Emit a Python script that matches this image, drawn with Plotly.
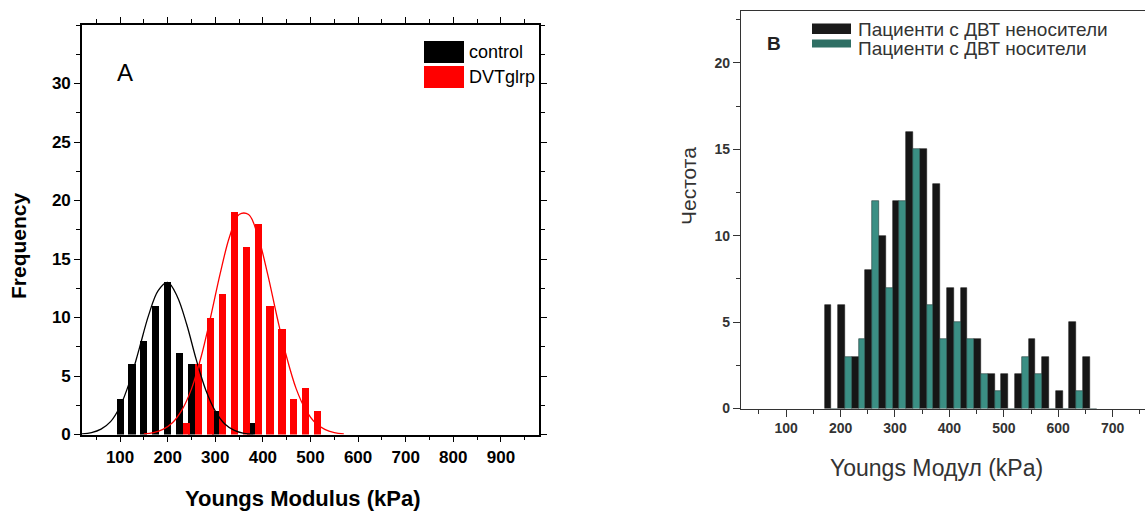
import plotly.graph_objects as go

W, H = 1145, 514

# ---------------- Panel A data ----------------
control_x = [100, 125, 150, 175, 200, 225, 250, 300, 375]
control_n = [3, 6, 8, 11, 13, 7, 6, 2, 1]
dvt_x = [240, 265, 290, 315, 340, 365, 390, 415, 440, 465, 490, 515]
dvt_n = [1, 6, 10, 12, 19, 16, 18, 11, 9, 3, 4, 2]

# fitted curves
control_fit_x = [20, 40, 60, 80, 100, 120, 140, 160, 180, 200, 220, 240, 260, 280, 300, 320, 340, 360, 380]
control_fit_y = [0.05, 0.16, 0.46, 1.1, 2.4, 4.5, 7.3, 10.2, 12.3, 13.0, 11.8, 9.4, 6.4, 3.8, 2.0, 0.9, 0.35, 0.1, 0.03]
dvt_fit_x = [150, 170, 190, 210, 230, 250, 270, 290, 310, 330, 350, 370, 390, 410, 430, 450, 470, 490, 510, 530, 550, 570]
dvt_fit_y = [0.06, 0.17, 0.44, 1.0, 2.1, 3.9, 6.6, 10.0, 13.7, 16.9, 18.8, 18.8, 16.9, 13.7, 10.0, 6.6, 3.9, 2.1, 1.0, 0.44, 0.17, 0.06]

a_xticks = [100, 200, 300, 400, 500, 600, 700, 800, 900]
a_yticks = [0, 5, 10, 15, 20, 25, 30]

# ---------------- Panel B data ----------------
b_bins = [183, 208, 233, 258, 283, 308, 333, 358, 383, 408, 433, 458, 483, 508, 533, 558, 583, 608, 633, 658]
b_noncarriers = [6, 6, 3, 8, 10, 12, 16, 15, 13, 7, 7, 4, 2, 2, 2, 4, 3, 1, 5, 3]
b_carriers = [0, 3, 4, 12, 7, 12, 15, 6, 4, 5, 4, 2, 1, 0, 3, 2, 0, 0, 1, 0]

b_xticks = [100, 200, 300, 400, 500, 600, 700]
b_yticks = [0, 5, 10, 15, 20]

SANS = "Liberation Sans, Arial"

fig = go.Figure()

# Panel A
fig.add_trace(go.Bar(x=control_x, y=control_n, width=15, marker=dict(color="#000000", line=dict(width=0)),
                     xaxis="x", yaxis="y", showlegend=False))
fig.add_trace(go.Bar(x=dvt_x, y=dvt_n, width=15, marker=dict(color="#ff0000", line=dict(width=0)),
                     xaxis="x", yaxis="y", showlegend=False))
fig.add_trace(go.Scatter(x=control_fit_x, y=control_fit_y, mode="lines", line=dict(color="#000000", width=1.3, shape="spline"),
                         xaxis="x", yaxis="y", showlegend=False))
fig.add_trace(go.Scatter(x=dvt_fit_x, y=dvt_fit_y, mode="lines", line=dict(color="#ff0000", width=1.3, shape="spline"),
                         xaxis="x", yaxis="y", showlegend=False))

# Panel B
fig.add_trace(go.Bar(x=b_bins, y=b_noncarriers, width=12.5, offset=-12.5,
                     marker=dict(color="#161616", line=dict(width=0.6, color="#1a1a1a")),
                     xaxis="x2", yaxis="y2", showlegend=False))
fig.add_trace(go.Bar(x=b_bins, y=b_carriers, width=12.5, offset=0,
                     marker=dict(color="#3b8f84", line=dict(width=0.6, color="#1f3b36")),
                     xaxis="x2", yaxis="y2", showlegend=False))

def px(x):
    return x / W

def py(y):
    return 1 - y / H

axA = dict(showline=True, linecolor="#000", linewidth=1.6, mirror="allticks", ticks="outside",
           tickcolor="#000", tickwidth=1.3, showgrid=False, zeroline=False)

fig.update_layout(
    width=W, height=H, margin=dict(l=0, r=0, t=0, b=0, autoexpand=False),
    paper_bgcolor="white", plot_bgcolor="rgba(0,0,0,0)",
    barmode="overlay", bargap=0,
    xaxis=dict(domain=[px(82), px(539)], range=[20, 980], tickvals=a_xticks, ticklen=6,
               minor=dict(dtick=50, tick0=0, ticklen=4, ticks="outside", tickcolor="#000"),
               tickfont=dict(family=SANS, size=17, color="#000", weight="bold"),
               anchor="y", **axA),
    yaxis=dict(domain=[py(434.5), py(25)], range=[0, 35], tickvals=a_yticks, ticklen=6,
               minor=dict(dtick=2.5, tick0=0, ticklen=4, ticks="outside", tickcolor="#000"),
               tickfont=dict(family=SANS, size=17, color="#000", weight="bold"),
               anchor="x", **axA),
    xaxis2=dict(domain=[px(741), 1.0], range=[17, 759.5], tickvals=b_xticks, ticks="outside", ticklen=7,
                tickcolor="#333", tickwidth=1.2,
                minor=dict(dtick=50, tick0=0, ticklen=4, ticks="outside", tickcolor="#333"),
                showline=True, linecolor="#333", linewidth=1.3, mirror=True, showgrid=False, zeroline=False,
                tickfont=dict(family=SANS, size=14, color="#333", weight="bold"), anchor="y2"),
    yaxis2=dict(domain=[py(408.5), py(11)], range=[0, 23], tickvals=b_yticks, ticks="outside", ticklen=7,
                tickcolor="#333", tickwidth=1.2,
                minor=dict(dtick=2.5, tick0=0, ticklen=4, ticks="outside", tickcolor="#333"),
                showline=True, linecolor="#333", linewidth=1.3, mirror=False, showgrid=False, zeroline=False,
                tickfont=dict(family=SANS, size=14, color="#333", weight="bold"), anchor="x2"),
)

def note(text, x, y, size, color="#000", bold=False, anchor="center", angle=0):
    return dict(text=text, x=px(x), y=py(y), xref="paper", yref="paper", showarrow=False,
                xanchor=anchor, yanchor="middle", textangle=angle,
                font=dict(family=SANS, size=size, color=color, weight="bold" if bold else "normal"))

ann = [
    note("A", 125, 73, 24),
    note("Frequency", 18, 246, 21, bold=True, angle=-90),
    note("Youngs Modulus (kPa)", 302, 498, 22, bold=True),
    note("control", 467, 52, 18, anchor="left"),
    note("DVTglrp", 467, 77, 18, anchor="left"),
    note("B", 774, 43, 19, color="#222", bold=True),
    note("Пациенти с ДВТ неносители", 856, 29, 19, color="#333", anchor="left"),
    note("Пациенти с ДВТ носители", 856, 48, 19, color="#333", anchor="left"),
    note("Честота", 688, 186, 21, color="#333", angle=-90),
    note("Youngs Модул (kPa)", 936, 468, 23, color="#333"),
]
fig.update_layout(annotations=ann)

shapes = [
    dict(type="rect", xref="paper", yref="paper", x0=px(424), x1=px(464), y0=py(63), y1=py(41),
         fillcolor="#000", line=dict(width=0)),
    dict(type="rect", xref="paper", yref="paper", x0=px(424), x1=px(464), y0=py(88), y1=py(66),
         fillcolor="#ff0000", line=dict(width=0)),
    dict(type="rect", xref="paper", yref="paper", x0=px(812), x1=px(851), y0=py(34), y1=py(23.5),
         fillcolor="#1a1a1a", line=dict(width=0)),
    dict(type="rect", xref="paper", yref="paper", x0=px(812), x1=px(851), y0=py(47.5), y1=py(39.5),
         fillcolor="#2f6f64", line=dict(width=0)),
]
fig.update_layout(shapes=shapes)

fig.write_html("out.html", config={"responsive": False},
               post_script="document.body.style.margin='0';document.body.style.overflow='hidden';"
                           "document.documentElement.setAttribute('lang','bg');")
